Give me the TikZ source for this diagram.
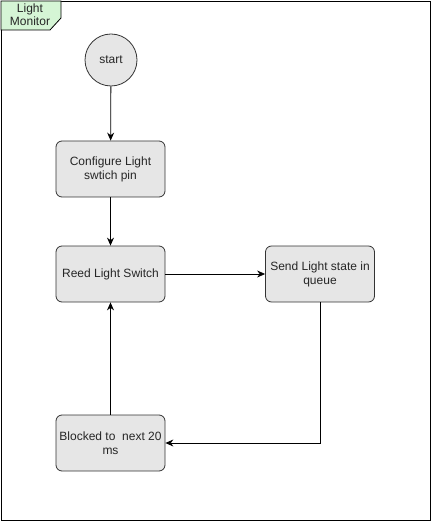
\documentclass[tikz,border=0pt]{standalone}
\usepackage{fontspec}
\setmainfont{Liberation Sans}
\usetikzlibrary{arrows.meta}
\definecolor{boxfill}{HTML}{E6E6E6}
\definecolor{boxline}{HTML}{333333}
\definecolor{tabfill}{HTML}{D5F5D5}
\tikzset{
  stepbox/.style={draw=boxline, fill=boxfill, rounded corners=6pt, minimum width=109pt, minimum height=56pt, align=center, inner sep=2pt, line width=0.8pt},
  conn/.style={draw=black, line width=0.8pt, -{Stealth[length=8pt,width=7pt]}},
}
\begin{document}
\begin{tikzpicture}[x=1pt,y=-1pt, font=\fontsize{12}{14}\selectfont, text=black!85]
\useasboundingbox (0,0) rectangle (431,521);
\draw[black, line width=0.8pt] (1,1) rectangle (430,520);
\draw[black, line width=0.8pt, fill=tabfill] (1,1) -- (61,1) -- (61,18) -- (50,30) -- (1,30) -- cycle;
\node (title) at (30,15) [align=center, font=\fontsize{12}{13}\selectfont] {Light\\Monitor};
\node (start) at (111,60) [circle, draw=boxline, fill=boxfill, minimum size=52pt, inner sep=0pt, line width=0.8pt] {start};
\node (conf) at (110.5,169) [stepbox] {Configure Light\\swtich pin};
\node (reed) at (110.5,274) [stepbox] {Reed Light Switch};
\node (send) at (320,274) [stepbox] {Send Light state in\\queue};
\node (block) at (110.5,443) [stepbox] {Blocked to\ \ next 20\\ms};
\draw[conn] (start) -- (conf);
\draw[conn] (conf) -- (reed);
\draw[conn] (reed) -- (send);
\draw[conn] (send.south) |- (block.east);
\draw[conn] (block) -- (reed);
\end{tikzpicture}
\end{document}
